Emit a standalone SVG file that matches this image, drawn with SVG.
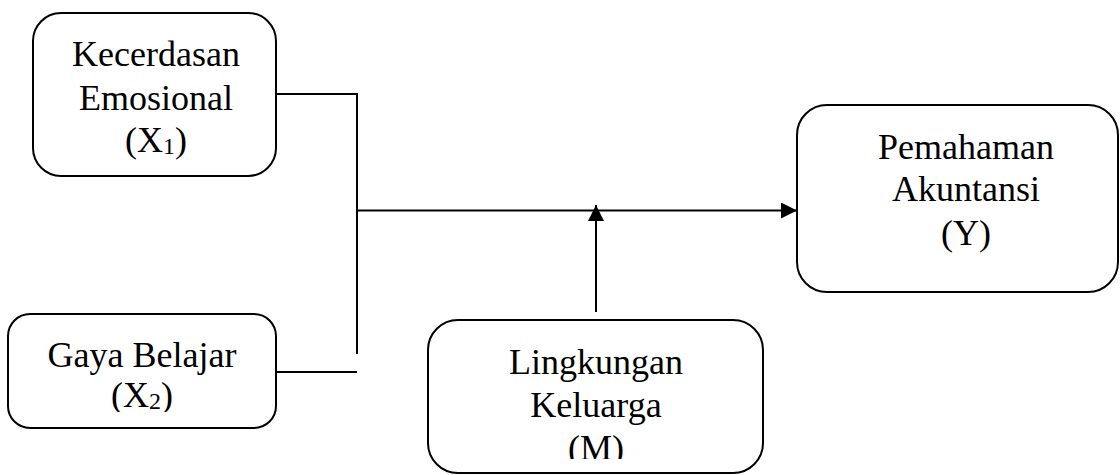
<svg xmlns="http://www.w3.org/2000/svg" width="1120" height="475" viewBox="0 0 1120 475">
  <style>
    .box { fill: #ffffff; stroke: #000000; stroke-width: 2; }
    .lbl { font-family: "Liberation Serif", "Times New Roman", serif; font-size: 36px; fill: #000000; text-anchor: middle; }
    .sub { font-size: 24px; }
    .wire { fill: none; stroke: #000000; stroke-width: 2; }
  </style>
  <defs>
    <marker id="arrow" viewBox="0 0 10 10" refX="10" refY="5" markerWidth="8" markerHeight="8" markerUnits="strokeWidth" orient="auto">
      <path d="M0,0 L10,5 L0,10 Z" fill="#000000"/>
    </marker>
    <clipPath id="clipX2"><rect x="8" y="314" width="268" height="98"/></clipPath>
    <clipPath id="clipM"><rect x="428" y="320" width="335" height="139"/></clipPath>
  </defs>

  <g id="connectors">
    <polyline class="wire" points="276,94 357,94 357,354"/>
    <line class="wire" x1="276" y1="372" x2="357" y2="372"/>
    <line class="wire" x1="357" y1="210.5" x2="797" y2="210.5" marker-end="url(#arrow)"/>
    <line class="wire" x1="596" y1="312" x2="596" y2="205" marker-end="url(#arrow)"/>
  </g>

  <g id="x1">
    <rect class="box" x="33" y="13" width="243" height="163" rx="28" ry="28"/>
    <text class="lbl" x="156" y="66">Kecerdasan</text>
    <text class="lbl" x="156" y="110">Emosional</text>
    <text class="lbl" x="156" y="152">(X<tspan class="sub" dy="2">1</tspan><tspan dy="-2">)</tspan></text>
  </g>

  <g id="x2">
    <rect class="box" x="8" y="314" width="268" height="114" rx="22" ry="22"/>
    <g clip-path="url(#clipX2)">
      <text class="lbl" x="142" y="367">Gaya Belajar</text>
      <text class="lbl" x="142" y="407">(X<tspan class="sub" dy="2">2</tspan><tspan dy="-2">)</tspan></text>
    </g>
  </g>

  <g id="m">
    <rect class="box" x="428" y="320" width="335" height="153" rx="30" ry="30"/>
    <g clip-path="url(#clipM)">
      <text class="lbl" x="596" y="374">Lingkungan</text>
      <text class="lbl" x="596" y="417">Keluarga</text>
      <text class="lbl" x="596" y="460">(M)</text>
    </g>
  </g>

  <g id="y">
    <rect class="box" x="797" y="105" width="321" height="187" rx="30" ry="30"/>
    <text class="lbl" x="966" y="159">Pemahaman</text>
    <text class="lbl" x="966" y="201">Akuntansi</text>
    <text class="lbl" x="966" y="245">(Y)</text>
  </g>
</svg>
